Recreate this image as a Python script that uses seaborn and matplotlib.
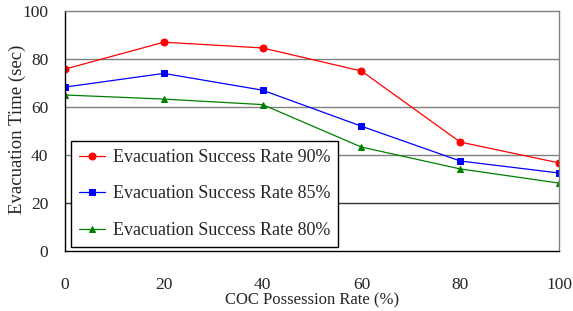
import matplotlib
matplotlib.use("Agg")
import matplotlib.pyplot as plt
import seaborn as sns
import pandas as pd

x = [0, 20, 40, 60, 80, 100]
rate90 = [75.8, 87.0, 84.6, 75.0, 45.4, 36.7]
rate85 = [68.3, 74.0, 67.0, 52.0, 37.5, 32.5]
rate80 = [65.0, 63.3, 61.0, 43.3, 34.2, 28.3]
labels = ["Evacuation Success Rate 90%", "Evacuation Success Rate 85%", "Evacuation Success Rate 80%"]
colors = ["#ff0000", "#0000ff", "#008000"]
markers = ["o", "s", "^"]

df = pd.concat([
    pd.DataFrame({"x": x, "y": v, "series": lab})
    for v, lab in zip([rate90, rate85, rate80], labels)
])

sns.set_style("white")
plt.rcParams["font.family"] = ["Liberation Serif", "DejaVu Serif"]

fig = plt.figure(figsize=(5.73, 3.11), dpi=100)
ax = fig.add_axes([65/573, 1-251/311, (559-65)/573, (251-11)/311])

for lab, c, m in zip(labels, colors, markers):
    sub = df[df.series == lab]
    sns.lineplot(data=sub, x="x", y="y", ax=ax, color=c, marker=m, markersize=5,
                 markeredgecolor=c, linewidth=0.9, label=lab)

ax.set_xlim(0, 100)
ax.set_ylim(0, 100)
ax.set_xticks(x)
ax.set_yticks([0, 20, 40, 60, 80, 100])
for yv in [20, 40, 60, 80]:
    ax.axhline(yv, color="#808080" if yv != 20 else "#333333", linewidth=1.0, zorder=0)
ax.tick_params(axis="both", labelsize=12.5, direction="out", length=4, width=1, color="black")
ax.tick_params(axis="x", pad=15)
ax.tick_params(axis="y", pad=8)
ax.set_xlabel("COC Possession Rate (%)", fontsize=12, labelpad=-1)
ax.set_ylabel("Evacuation Time (sec)", fontsize=13.5)
ax.yaxis.set_label_coords(-0.079, 0.508)
for s in ["top", "right"]:
    ax.spines[s].set_color("#808080")
for s in ["left", "bottom"]:
    ax.spines[s].set_color("black")
for s in ax.spines.values():
    s.set_linewidth(1.0)

leg = ax.legend(loc="lower left", bbox_to_anchor=(6/494, 4/240), fontsize=13,
                frameon=True, fancybox=False, edgecolor="black", framealpha=1,
                handlelength=1.45, handletextpad=0.4, labelspacing=1.08,
                borderpad=0.45, borderaxespad=0)
leg.get_frame().set_linewidth(1.0)

fig.savefig("out.png", dpi=100)
